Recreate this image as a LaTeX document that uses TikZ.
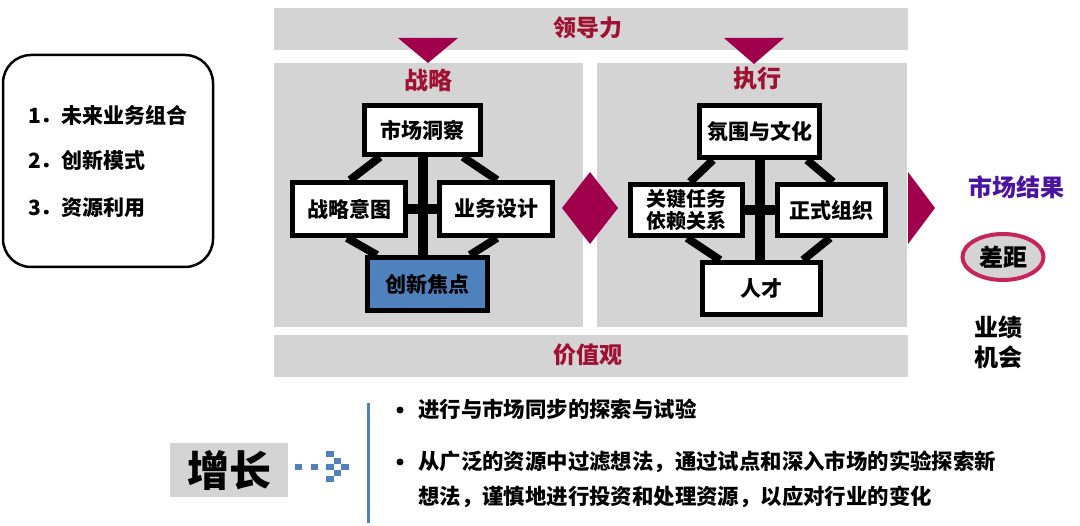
\documentclass[tikz,border=0pt]{standalone}
\usepackage{fontspec}
\setmainfont{Noto Sans CJK SC}
\usetikzlibrary{shapes.geometric}
\definecolor{panelgray}{RGB}{212,212,212}
\definecolor{redtxt}{RGB}{160,16,48}
\definecolor{tri}{RGB}{160,0,75}
\definecolor{purp}{RGB}{75,20,160}
\definecolor{gapred}{RGB}{200,36,92}
\definecolor{blu}{RGB}{79,129,189}
\newcommand\fz[2]{\fontsize{#1}{#2}\selectfont\bfseries}
\pgfdeclarelayer{panellayer}
\pgfdeclarelayer{connlayer}
\pgfsetlayers{panellayer,connlayer,main}
\begin{document}
\begin{tikzpicture}[x=1pt,y=-1pt,
  panel/.style={fill=panelgray,draw=none,inner sep=0pt},
  box/.style={draw=black,line width=5pt,fill=white,inner sep=0pt,align=center,font=\fz{21}{23}},
  bar/.style={line width=10pt,black},
  diag/.style={line width=8pt,black},
  head/.style={text=redtxt,font=\fz{23}{26},inner sep=0pt},
  plain/.style={inner sep=0pt,font=\fz{21}{24}},
  sq/.style={fill=blu,draw=none},
  bulletdot/.style={circle,fill=black,draw=none,inner sep=0pt,minimum size=7pt}
]
\useasboundingbox (0,0) rectangle (1080,526);

% panels
\begin{pgfonlayer}{panellayer}
\node[panel,minimum width=634pt,minimum height=42pt] (lead) at (591,29) {};
\node[panel,minimum width=309pt,minimum height=264pt] (strat) at (428.5,195) {};
\node[panel,minimum width=310pt,minimum height=264pt] (exec) at (752,195) {};
\node[panel,minimum width=634pt,minimum height=42pt] (vals) at (591,356) {};
\end{pgfonlayer}

\node[head] (leadt) at (588,28) {领导力};
\node[head] (valst) at (588,355) {价值观};

% triangles from leadership
\fill[tri] (398,38) -- (458,38) -- (428,63) -- cycle;
\fill[tri] (724,38) -- (784,38) -- (754,64) -- cycle;

\node[head,font=\fz{24}{26}] (stratt) at (428,80) {战略};
\node[head,font=\fz{24}{26}] (exect) at (757,78) {执行};

% strategy boxes
\node[box,minimum width=116pt,minimum height=49pt] (sTop) at (422.5,130) {市场洞察};
\node[box,minimum width=113pt,minimum height=53pt] (sL) at (349,209) {战略意图};
\node[box,minimum width=113pt,minimum height=53pt] (sR) at (496,209) {业务设计};
\node[box,fill=blu,minimum width=120pt,minimum height=53pt] (sBot) at (427.5,284) {创新焦点};

% execution boxes
\node[box,minimum width=120pt,minimum height=52pt] (eTop) at (759.5,131.5) {氛围与文化};
\node[box,minimum width=112pt,minimum height=51pt,font=\fz{20}{22}] (eL) at (686.5,210) {关键任务\\依赖关系};
\node[box,minimum width=108pt,minimum height=51pt] (eR) at (831.5,210) {正式组织};
\node[box,minimum width=118pt,minimum height=52pt] (eBot) at (761.5,288.5) {人才};

\begin{pgfonlayer}{connlayer}
\draw[bar] (sTop) -- (sTop |- sBot);
\draw[bar] (sL) -- (sR);
\draw[diag] ([xshift=18pt]sTop.south west) -- ([xshift=60pt]sL.north west);
\draw[diag] ([xshift=-20pt]sTop.south east) -- ([xshift=60pt]sR.north west);
\draw[diag] ([xshift=57pt]sL.south west) -- ([xshift=12pt]sBot.north west);
\draw[diag] ([xshift=60pt]sR.south west) -- ([xshift=-20pt]sBot.north east);
\draw[bar] (eTop) -- (eTop |- eBot);
\draw[bar] (eL) -- (eR);
\draw[diag] ([xshift=16pt]eTop.south west) -- ([xshift=62pt]eL.north west);
\draw[diag] ([xshift=-15pt]eTop.south east) -- ([xshift=58pt]eR.north west);
\draw[diag] ([xshift=59pt]eL.south west) -- ([xshift=20pt]eBot.north west);
\draw[diag] ([xshift=55pt]eR.south west) -- ([xshift=-20pt]eBot.north east);
\end{pgfonlayer}

% diamond and right triangle
\fill[tri] (562,208) -- (590,172) -- (618,208) -- (590,244) -- cycle;
\fill[tri] (908,172) -- (935,208) -- (908,244) -- cycle;

% market results
\node[plain,text=purp,font=\fz{24}{26}] (mkt) at (1016,187) {市场结果};
\node[ellipse,draw=gapred,line width=4pt,fill=panelgray,minimum width=81pt,minimum height=46pt,inner sep=0pt,font=\fz{24}{26}] (gap) at (1003,257) {差距};
\node[plain,align=center,font=\fz{24}{30}] (perf) at (998,342) {业绩\\机会};

% left list box
\node[draw=black,line width=2.5pt,rounded corners=28pt,minimum width=210pt,minimum height=212pt] (listbox) at (108,161) {};
\node[plain,anchor=west,font=\fz{21}{24}] (l1) at (28,115) {1．未来业务组合};
\node[plain,anchor=west,font=\fz{21}{24}] (l2) at (28,160) {2．创新模式};
\node[plain,anchor=west,font=\fz{21}{24}] (l3) at (28,208) {3．资源利用};

% growth
\node[fill=panelgray,minimum width=118pt,minimum height=54pt,inner sep=0pt,font=\fz{42}{44}] (grow) at (229,470) {增长};
\fill[sq] (295,464) rectangle (302,470);
\fill[sq] (311,464) rectangle (318,470);
\fill[sq] (326,451) rectangle (334,457);
\fill[sq] (334,458) rectangle (341,464);
\fill[sq] (326,464) rectangle (334,470);
\fill[sq] (341,464) rectangle (349,470);
\fill[sq] (334,470) rectangle (341,476);
\fill[sq] (326,476) rectangle (334,482);

\coordinate (vtop) at (368,403);
\coordinate (vbot) at (368,523);
\draw[blu,line width=3pt] (vtop) -- (vbot);

\node[bulletdot] (b1) at (400,410) {};
\node[plain,anchor=west,font=\fz{21.4}{24}] (t1) at (418,409) {进行与市场同步的探索与试验};
\node[bulletdot] (b2) at (400,462) {};
\node[plain,anchor=north west,align=left,font=\fz{21.4}{35}] (t2) at (418,451) {从广泛的资源中过滤想法，通过试点和深入市场的实验探索新\\想法，谨慎地进行投资和处理资源，以应对行业的变化};
\end{tikzpicture}
\end{document}
